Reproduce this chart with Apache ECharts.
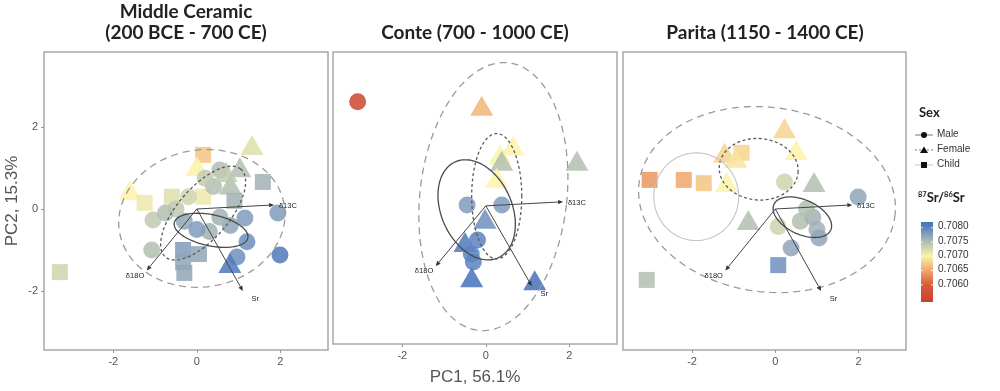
<!DOCTYPE html>
<html>
<head>
<meta charset="utf-8">
<script src="https://cdn.jsdelivr.net/npm/echarts@6/dist/echarts.min.js"></script>
<style>html,body{margin:0;padding:0;background:#fff}#main{width:1000px;height:391px}</style>
</head>
<body>
<div id="main"></div>
<script>
// ---------------- data ----------------
const panelTitles = ['Middle Ceramic\n(200 BCE - 700 CE)', 'Conte (700 - 1000 CE)', 'Parita (1150 - 1400 CE)'];
const xTicks = [-2, 0, 2];
const yTicks = [-2, 0, 2];
const sexLabels = ['Male', 'Female', 'Child'];
const srTicks = [0.7080, 0.7075, 0.7070, 0.7065, 0.7060];

// sex codes: 0 = Male, 1 = Female, 2 = Child
const p1X   = [-3.28,-1.60,-1.25,-0.60, 0.15,-1.05,-1.08, 0.15, 0.00, 1.32, 1.03, 0.55, 1.58, 1.94, 1.15, 1.99, 1.20, 0.96, 0.79,-0.33,-0.33,-0.30,-0.30, 0.30, 0.80, 0.00,-0.50, 0.40, 0.80, 0.90,-0.20, 0.05, 0.70, 0.20,-0.75, 0.55];
const p1Y   = [-1.54, 0.46, 0.15, 0.30, 0.30,-0.27,-1.00, 1.32, 1.05, 1.56, 1.02, 0.95, 0.66,-0.10,-0.22,-1.12,-0.80,-1.17,-1.32,-1.00,-1.30,-1.56,-0.30,-0.55,-0.40,-0.50, 0.00, 0.55, 0.60, 0.20, 0.30,-1.10, 0.90, 0.75,-0.10,-0.20];
const p1Sr  = [0.7073,0.7070,0.7071,0.7072,0.7071,0.7074,0.7075,0.7067,0.7070,0.7072,0.7075,0.7075,0.7076,0.7078,0.7078,0.7081,0.7079,0.7079,0.7081,0.7078,0.7077,0.7077,0.7077,0.7076,0.7077,0.7078,0.7074,0.7075,0.7075,0.7076,0.7073,0.7077,0.7074,0.7074,0.7075,0.7076];
const p1Sex = [2,1,2,2,2,0,0,2,1,1,1,0,2,0,0,0,0,0,1,2,2,2,0,0,0,0,0,0,1,2,0,2,1,0,0,0];

const p2X   = [-3.07,-0.10, 0.65, 0.34, 0.38, 2.18, 0.26,-0.45, 0.38,-0.02,-0.50,-0.20,-0.30,-0.34, 1.17,-0.35];
const p2Y   = [ 2.59, 2.49, 1.50, 1.27, 1.12, 1.12, 0.70, 0.02, 0.02,-0.32,-0.90,-0.85,-1.40,-1.78,-1.85,-1.20];
const p2Sr  = [0.7055,0.7066,0.7070,0.7070,0.7075,0.7075,0.7070,0.7078,0.7078,0.7079,0.7081,0.7080,0.7080,0.7082,0.7082,0.7080];
const p2Sex = [0,1,1,1,1,1,1,0,0,1,1,0,0,1,1,0];

const p3X   = [-3.02,-2.20,-1.72,-3.09, 0.22, 0.50,-1.22,-0.81,-1.17, 0.22, 0.93, 1.99, 0.60, 0.90, 1.00,-0.65, 0.07, 1.05, 0.38, 0.07, 0.75,-0.95];
const p3Y   = [ 0.71, 0.71, 0.63,-1.73, 1.97, 1.44, 1.37, 1.37, 0.66, 0.66, 0.66, 0.29,-0.30,-0.20,-0.50,-0.27,-0.43,-0.71,-0.95,-1.37, 0.00, 1.25];
const p3Sr  = [0.7064,0.7065,0.7067,0.7075,0.7068,0.7070,0.7068,0.7068,0.7070,0.7073,0.7075,0.7077,0.7075,0.7076,0.7076,0.7075,0.7073,0.7077,0.7077,0.7079,0.7075,0.7069];
const p3Sex = [2,2,2,2,1,1,1,2,1,0,1,0,0,0,0,1,0,0,0,2,0,1];

// ellipses: centre x, centre y, radius x, radius y, rotation (deg), kind (0 all, 1 female, 2 male, 3 child)
const e1 = [[0.12,-0.23,2.00,1.67,10,0],[0.15,-0.10,1.40,0.62,50,1],[0.34,-0.52,0.90,0.38,-12,2]];
const e2 = [[0.18,0.23,1.76,3.35,-6,0],[0.26,0.24,0.60,1.56,0,1],[-0.22,-0.10,1.30,0.85,-68,2]];
const e3 = [[-0.20,0.23,3.10,2.25,-8,0],[-0.40,0.97,0.95,0.75,-5,1],[0.65,-0.20,0.75,0.42,-25,2],[-1.90,0.30,1.02,1.07,0,3]];

// loading vectors (same PCA in each panel)
const loadingNames = ['δ13C', 'δ18O', 'Sr'];
const loadingX = [1.85, -1.20, 1.10];
const loadingY = [0.10, -1.50, -2.00];
const loadingLabelX = [2.18, -1.48, 1.40];
const loadingLabelY = [0.08, -1.63, -2.20];

// colour scale for 87Sr/86Sr
const srMin = 0.7054, srMax = 0.7082;
const srStops  = [0.7054, 0.7060, 0.7065, 0.7070, 0.7075, 0.7080, 0.7082];
const srColors = ['#c9412c', '#d95d3c', '#eea66a', '#fbf3a8', '#b3beb2', '#5d83c1', '#4670b8'];

// ---------------- helpers ----------------
function hexToRgb(h){return [parseInt(h.slice(1,3),16),parseInt(h.slice(3,5),16),parseInt(h.slice(5,7),16)];}
function colorAt(v){
  for(let i=0;i<srStops.length-1;i++){
    if(v<=srStops[i+1]||i===srStops.length-2){
      const t=Math.max(0,Math.min(1,(v-srStops[i])/(srStops[i+1]-srStops[i])));
      const a=hexToRgb(srColors[i]),b=hexToRgb(srColors[i+1]);
      return 'rgb('+a.map((c,k)=>Math.round(c+(b[k]-c)*t)).join(',')+')';
    }
  }
}
const sampled=[];for(let i=0;i<=56;i++){sampled.push(colorAt(srMin+(srMax-srMin)*i/56));}
const gradStops=srStops.map((v,i)=>({offset:(v-srMin)/(srMax-srMin),color:srColors[i]}));

function pts(X,Y,S,G){return X.map((x,i)=>[x,Y[i],S[i],G[i]]);}
const panels=[pts(p1X,p1Y,p1Sr,p1Sex),pts(p2X,p2Y,p2Sr,p2Sex),pts(p3X,p3Y,p3Sr,p3Sex)];
const ellipses=[e1,e2,e3];
const loadings=loadingNames.map((n,i)=>[loadingX[i],loadingY[i],loadingLabelX[i],loadingLabelY[i],i]);

const gridLeft=[44,333,623], gridW=[284,284,283];
const XMIN=-3.66,XMAX=3.14,YMIN=-3.44,YMAX=3.83;

const ellipseStyle=[
  {stroke:'#9a9a9a',lineWidth:1.3,lineDash:[7,5],fill:null},
  {stroke:'#5a5a5a',lineWidth:1.3,lineDash:[3,2.5],fill:null},
  {stroke:'#4a4a4a',lineWidth:1.3,fill:null},
  {stroke:'#c4c4c4',lineWidth:1.1,fill:null}
];
function renderEllipse(params,api){
  const cx=api.value(0),cy=api.value(1),rx=api.value(2),ry=api.value(3),a=api.value(4)*Math.PI/180,k=api.value(5);
  const p=[];
  for(let i=0;i<=144;i++){
    const th=i/144*2*Math.PI,ex=rx*Math.cos(th),ey=ry*Math.sin(th);
    p.push(api.coord([cx+ex*Math.cos(a)-ey*Math.sin(a),cy+ex*Math.sin(a)+ey*Math.cos(a)]));
  }
  return {type:'polyline',silent:true,shape:{points:p},style:ellipseStyle[k]};
}
function renderArrow(params,api){
  const o=api.coord([0,0]),t=api.coord([api.value(0),api.value(1)]),l=api.coord([api.value(2),api.value(3)]);
  const name=loadingNames[api.value(4)];
  const ang=Math.atan2(t[1]-o[1],t[0]-o[0]),h=5,w=2.2;
  const b=[t[0]-h*Math.cos(ang),t[1]-h*Math.sin(ang)];
  const head=[t,[b[0]+w*Math.sin(ang),b[1]-w*Math.cos(ang)],[b[0]-w*Math.sin(ang),b[1]+w*Math.cos(ang)]];
  return {type:'group',silent:true,children:[
    {type:'line',shape:{x1:o[0],y1:o[1],x2:b[0],y2:b[1]},style:{stroke:'#444',lineWidth:1}},
    {type:'polygon',shape:{points:head},style:{fill:'#333'}},
    {type:'text',x:l[0],y:l[1],style:{text:name,fill:'#222',fontSize:7.5,fontFamily:'Liberation Sans',align:'center',verticalAlign:'middle'}}
  ]};
}

const symbolFor=v=>['circle','triangle','rect'][v[3]];
const sizeFor=v=>[[17,17],[23,20],[16,16]][v[3]];

const grids=[],xAxes=[],yAxes=[],series=[];
for(let p=0;p<3;p++){
  grids.push({left:gridLeft[p],top:52,width:gridW[p],height:298,show:true,borderColor:'#a8a8a8',borderWidth:1.5,backgroundColor:'#fff',containLabel:false});
  xAxes.push({gridIndex:p,type:'value',min:XMIN,max:XMAX,splitLine:{show:false},
    axisLine:{show:false,onZero:false},
    axisTick:{show:true,length:3,lineStyle:{color:'#999'},customValues:xTicks},
    axisLabel:{color:'#555',fontSize:11,margin:6,fontFamily:'Liberation Sans',customValues:xTicks,formatter:v=>String(v)},
    name:p===1?'PC1, 56.1%':'',nameLocation:'middle',nameGap:25,nameTextStyle:{color:'#555',fontSize:17,fontFamily:'Liberation Sans'}});
  yAxes.push({gridIndex:p,type:'value',min:YMIN,max:YMAX,splitLine:{show:false},
    axisLine:{show:false,onZero:false},
    axisTick:{show:p===0,length:3,lineStyle:{color:'#999'},customValues:yTicks},
    axisLabel:{show:p===0,color:'#555',fontSize:11,margin:6,fontFamily:'Liberation Sans',customValues:yTicks,formatter:v=>String(v)},
    name:p===0?'PC2, 15.3%':'',nameLocation:'middle',nameGap:23,nameRotate:90,nameTextStyle:{color:'#555',fontSize:17,fontFamily:'Liberation Sans'}});
  series.push({type:'scatter',xAxisIndex:p,yAxisIndex:p,data:panels[p],symbol:symbolFor,symbolSize:sizeFor,
    itemStyle:{opacity:0.85},z:2,silent:true});
}
for(let p=0;p<3;p++){
  series.push({type:'custom',xAxisIndex:p,yAxisIndex:p,data:ellipses[p],renderItem:renderEllipse,encode:{x:0,y:1},z:3,silent:true});
  series.push({type:'custom',xAxisIndex:p,yAxisIndex:p,data:loadings,renderItem:renderArrow,encode:{x:0,y:1},z:4,silent:true});
}

// legend graphics
const legendEls=[];
legendEls.push({type:'text',left:919,top:106,style:{text:'Sex',fontSize:13,fontWeight:'bold',fill:'#222',fontFamily:'Lato'}});
const rowY=[135,150,165];
const keyLine=[{stroke:'#777',lineWidth:1},{stroke:'#777',lineWidth:1,lineDash:[2,2]},{stroke:'#c4c4c4',lineWidth:1}];
sexLabels.forEach((s,i)=>{
  const y=rowY[i];
  legendEls.push({type:'line',shape:{x1:915,y1:y,x2:933,y2:y},style:keyLine[i]});
  if(i===0)legendEls.push({type:'circle',shape:{cx:924,cy:y,r:3},style:{fill:'#111'}});
  if(i===1)legendEls.push({type:'polygon',shape:{points:[[924,y-3.5],[920,y+3],[928,y+3]]},style:{fill:'#111'}});
  if(i===2)legendEls.push({type:'rect',shape:{x:921,y:y-3,width:6,height:6},style:{fill:'#111'}});
  legendEls.push({type:'text',left:937,top:y-6,style:{text:s,fontSize:10,fill:'#333',fontFamily:'Liberation Sans'}});
});
legendEls.push({type:'text',left:918,top:191,style:{rich:{s:{fontSize:7.5,fontWeight:'bold',fill:'#222',fontFamily:'Lato',verticalAlign:'top',padding:[0,0,5,0]},b:{fontSize:13,fontWeight:'bold',fill:'#222',fontFamily:'Lato'}},text:'{s|87}{b|Sr/}{s|86}{b|Sr}'}});
const barTop=222,barH=80,barX=921,barW=12;
legendEls.push({type:'rect',shape:{x:barX,y:barTop,width:barW,height:barH},style:{fill:new echarts.graphic.LinearGradient(0,1,0,0,gradStops)}});
srTicks.forEach(v=>{
  const y=barTop+barH-(v-srMin)/(srMax-srMin)*barH;
  legendEls.push({type:'line',shape:{x1:barX,y1:y,x2:barX+2,y2:y},style:{stroke:'#fff',lineWidth:0.8}});
  legendEls.push({type:'line',shape:{x1:barX+barW-2,y1:y,x2:barX+barW,y2:y},style:{stroke:'#fff',lineWidth:0.8}});
  legendEls.push({type:'text',left:938,top:y-6,style:{text:v.toFixed(4),fontSize:10,fill:'#333',fontFamily:'Liberation Sans'}});
});

const chart=echarts.init(document.getElementById('main'),null,{renderer:'canvas'});
chart.setOption({
  animation:false,
  backgroundColor:'#fff',
  title:[
    {text:panelTitles[0],left:186,top:1,textAlign:'center',padding:0,textStyle:{fontSize:19,fontWeight:'bold',color:'#222',fontFamily:'Lato',lineHeight:21}},
    {text:panelTitles[1],left:475,top:22,textAlign:'center',padding:0,textStyle:{fontSize:19,fontWeight:'bold',color:'#222',fontFamily:'Lato',lineHeight:21}},
    {text:panelTitles[2],left:765,top:22,textAlign:'center',padding:0,textStyle:{fontSize:19,fontWeight:'bold',color:'#222',fontFamily:'Lato',lineHeight:21}}
  ],
  grid:grids,xAxis:xAxes,yAxis:yAxes,
  visualMap:{type:'continuous',show:false,dimension:2,min:srMin,max:srMax,seriesIndex:[0,1,2],inRange:{color:sampled}},
  series:series,
  graphic:legendEls
});
</script>
</body>
</html>
